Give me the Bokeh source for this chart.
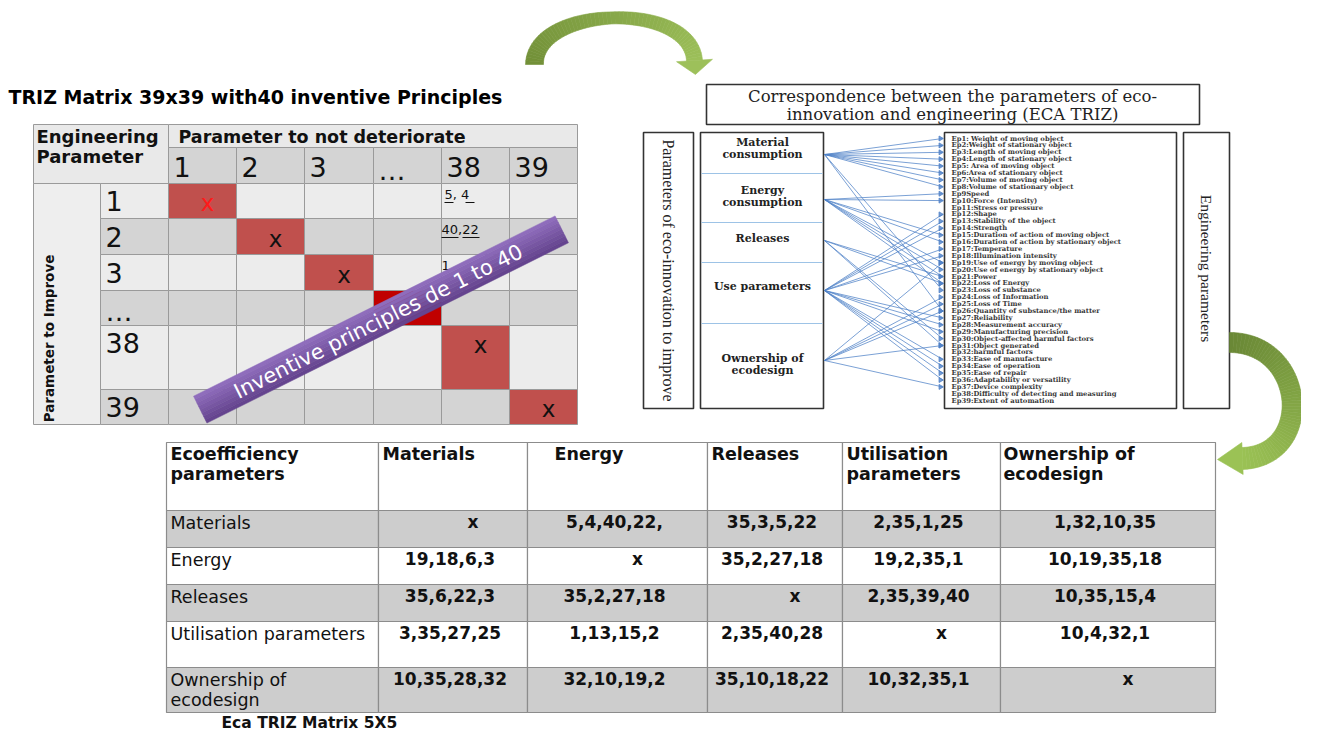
import math
import numpy as np
from bokeh.plotting import figure
from bokeh.models import Range1d
from bokeh.core.properties import value
from bokeh.embed import file_html
from bokeh.resources import INLINE

# ---------------- data ----------------
matrix_title = "TRIZ Matrix 39x39 with40 inventive Principles"
matrix_cols = ["1", "2", "3", "\u2026", "38", "39"]
matrix_rows = ["1", "2", "3", "\u2026", "38", "39"]
matrix_diag = ["x", "x", "x", "", "x", "x"]
col38_principles = ["5, 4", "40,22", "1"]
banner_text = "Inventive principles de 1 to 40"

corr_title = ["Correspondence between the parameters of eco-", "innovation and engineering (ECA TRIZ)"]
eco_axis_label = "Parameters of eco-innovation to improve"
eng_axis_label = "Engineering parameters"
eco_params = [["Material", "consumption"], ["Energy", "consumption"], ["Releases"],
              ["Use parameters"], ["Ownership of", "ecodesign"]]
eng_params = [
    "Ep1: Weight of moving object", "Ep2:Weight of stationary object", "Ep3:Length of moving object",
    "Ep4:Length of stationary object", "Ep5: Area of moving object", "Ep6:Area of stationary object",
    "Ep7:Volume of moving object", "Ep8:Volume of stationary object", "Ep9Speed",
    "Ep10:Force (Intensity)", "Ep11:Stress or pressure", "Ep12:Shape",
    "Ep13:Stability of the object", "Ep14:Strength", "Ep15:Duration of action of moving object",
    "Ep16:Duration of action by stationary object", "Ep17:Temperature", "Ep18:Illumination intensity",
    "Ep19:Use of energy by moving object", "Ep20:Use of energy by stationary object", "Ep21:Power",
    "Ep22:Loss of Energy", "Ep23:Loss of substance", "Ep24:Loss of Information",
    "Ep25:Loss of Time", "Ep26:Quantity of substance/the matter", "Ep27:Reliability",
    "Ep28:Measurement accuracy", "Ep29:Manufacturing precision", "Ep30:Object-affected harmful factors",
    "Ep31:Object generated", "Ep32:harmful factors", "Ep33:Ease of manufacture",
    "Ep34:Ease of operation", "Ep35:Ease of repair", "Ep36:Adaptability or versatility",
    "Ep37:Device complexity", "Ep38:Difficulty of detecting and measuring", "Ep39:Extent of automation",
]
links_material = [1, 2, 3, 4, 5, 6, 7, 8, 23, 26]
links_energy = [9, 10, 15, 16, 19, 20, 21, 22]
links_releases = [21, 22, 30, 31]
links_use = [12, 13, 14, 17, 18, 27, 28, 29, 33, 34, 35, 36]
links_ownership = [19, 24, 25, 26, 31, 37]

table_title = "Eca TRIZ  Matrix 5X5"
table_cols = [["Ecoefficiency", "parameters"], ["Materials"], ["Energy"], ["Releases"],
              ["Utilisation", "parameters"], ["Ownership of", "ecodesign"]]
table_rows = [["Materials"], ["Energy"], ["Releases"], ["Utilisation parameters"], ["Ownership of", "ecodesign"]]
vals_materials = ["x", "5,4,40,22,", "35,3,5,22", "2,35,1,25", "1,32,10,35"]
vals_energy = ["19,18,6,3", "x", "35,2,27,18", "19,2,35,1", "10,19,35,18"]
vals_releases = ["35,6,22,3", "35,2,27,18", "x", "2,35,39,40", "10,35,15,4"]
vals_utilisation = ["3,35,27,25", "1,13,15,2", "2,35,40,28", "x", "10,4,32,1"]
vals_ownership = ["10,35,28,32", "32,10,19,2", "35,10,18,22", "10,32,35,1", "x"]
table_vals = [vals_materials, vals_energy, vals_releases, vals_utilisation, vals_ownership]

# ---------------- figure ----------------
p = figure(width=1301, height=730, x_range=Range1d(0, 1301), y_range=Range1d(730, 0),
           output_backend="svg", toolbar_location=None, min_border=0,
           x_axis_location=None, y_axis_location=None)
p.grid.visible = False
p.outline_line_color = None
p.background_fill_color = "white"
p.border_fill_color = "white"

SANS = "DejaVu Sans"
SERIF = "DejaVu Serif"
TIMES = "Liberation Serif"


def txt(x, y, s, font=SANS, size=15, style="normal", color="black", align="left",
        baseline="middle", angle=0.0):
    p.text(x=[x], y=[y], text=[s], text_font=value(font), text_font_size=f"{size}px",
           text_font_style=style, text_color=color, text_align=align,
           text_baseline=baseline, angle=angle)


def boxes(rects, line_color="#9a9a9a", line_width=1.0):
    p.quad(left=[r[0] for r in rects], right=[r[2] for r in rects],
           top=[r[1] for r in rects], bottom=[r[3] for r in rects],
           fill_color=[r[4] for r in rects], line_color=line_color, line_width=line_width)


# ---------------- left TRIZ matrix ----------------
MX = [33, 100, 168, 236, 304, 373, 441, 509, 577]
MY = [124, 147, 183, 218, 254, 290, 325, 389, 424]
LIGHT, GRAY = "#ececec", "#d4d4d4"
RED, DARKRED = "#c0504d", "#c00000"

txt(8, 96, matrix_title, size=19, style="bold")
rects = [(MX[0], MY[0], MX[2], MY[2], "#e9e9e9"), (MX[2], MY[0], MX[8], MY[1], "#e9e9e9"),
         (MX[0], MY[2], MX[1], MY[8], "#eeeeee")]
for j in range(6):
    rects.append((MX[2 + j], MY[1], MX[3 + j], MY[2], GRAY))
for i in range(6):
    fill = LIGHT if i % 2 == 0 else GRAY
    rects.append((MX[1], MY[2 + i], MX[2], MY[3 + i], fill))
    for j in range(6):
        f = fill
        if i == j:
            f = DARKRED if matrix_diag[i] == "" else RED
        rects.append((MX[2 + j], MY[2 + i], MX[3 + j], MY[3 + i], f))
boxes(rects)

txt(36, 136, "Engineering", size=18, style="bold", color="#111111")
txt(36, 156, "Parameter", size=18, style="bold", color="#111111")
txt(178, 136, "Parameter  to not deteriorate", size=17.5, style="bold", color="#111111")
for j, lab in enumerate(matrix_cols):
    yy = 170 if lab == "\u2026" else 166
    txt(MX[2 + j] + 5, yy, lab, size=27, color="#111111")
for i, lab in enumerate(matrix_rows):
    top, bot = MY[2 + i], MY[3 + i]
    yy = (top + bot) / 2
    if lab == "38":
        yy = top + 17
    if lab == "\u2026":
        yy = bot - 14
    txt(105, yy, lab, size=27, color="#111111")
    if matrix_diag[i]:
        cx = (MX[2 + i] + MX[3 + i]) / 2 + 5
        cy = yy + 2
        txt(cx, cy, matrix_diag[i], size=23, align="center",
            color="#ff1a1a" if i == 0 else "#111111")
txt(48, 338, "Parameter to Improve", size=13.5, style="bold", color="#111111", align="center",
    angle=math.pi / 2)

# principles in column 38
for k, s in enumerate(col38_principles):
    yy = MY[2 + k] + 11
    x0 = MX[6] + (3 if k == 0 else 0)
    txt(x0, yy, s, size=13, color="#111111")
    if k == 0:
        p.segment(x0=[x0, x0 + 21], y0=[yy + 8, yy + 8], x1=[x0 + 9, x0 + 30], y1=[yy + 8, yy + 8],
                  line_color="#111111", line_width=1)
    elif k == 1:
        p.segment(x0=[x0, x0 + 21], y0=[yy + 8, yy + 8], x1=[x0 + 17, x0 + 38], y1=[yy + 8, yy + 8],
                  line_color="#111111", line_width=1)

# purple banner
bc = (380.5, 319.0)
blen, bwid = 404.0, 30.0
ang = math.radians(26.5)
u = np.array([math.cos(ang), -math.sin(ang)])
v = np.array([math.sin(ang), math.cos(ang)])
nstrip = 8
cols_a = np.array([0x93, 0x70, 0xc0])
cols_b = np.array([0x62, 0x42, 0x8c])
xs_b, ys_b, fc_b = [], [], []
for k in range(nstrip):
    a0 = -bwid / 2 + bwid * k / nstrip
    a1 = -bwid / 2 + bwid * (k + 1) / nstrip
    c = np.array(bc)
    pts = [c - u * blen / 2 + v * a0, c + u * blen / 2 + v * a0, c + u * blen / 2 + v * a1, c - u * blen / 2 + v * a1]
    xs_b.append([q[0] for q in pts])
    ys_b.append([q[1] for q in pts])
    cc = cols_a + (cols_b - cols_a) * (k + 0.5) / nstrip
    fc_b.append("#%02x%02x%02x" % tuple(int(t) for t in cc))
p.patches(xs=xs_b, ys=ys_b, fill_color=fc_b, line_color=fc_b, line_width=0.5)
txt(378, 321, banner_text, size=21, color="white", align="center", angle=ang)

# ---------------- middle correspondence diagram ----------------
BOXC = "#333333"
boxes([(706, 84, 1199, 124, "white"), (643, 132, 693, 408, "white"),
       (700, 132, 823, 408, "white"), (944, 132, 1176, 408, "white"),
       (1183, 132, 1229, 408, "white")], line_color=BOXC, line_width=1.6)
txt(952, 96, corr_title[0], font=SERIF, size=16.5, align="center", color="#222222")
txt(952, 114, corr_title[1], font=SERIF, size=16.5, align="center", color="#222222")
txt(668, 270, eco_axis_label, font=TIMES, size=16, align="center", color="#222222", angle=-math.pi / 2)
txt(1206, 268, eng_axis_label, font=TIMES, size=15.5, align="center", color="#222222", angle=-math.pi / 2)

sep_y = [173, 222, 262, 323]
p.segment(x0=[701] * 4, y0=sep_y, x1=[822] * 4, y1=sep_y, line_color="#9dc3e6", line_width=1.2)
eco_text_y = [[142, 154], [190, 202], [238], [286], [358, 370]]
for lines, ys in zip(eco_params, eco_text_y):
    for s, yy in zip(lines, ys):
        txt(762, yy, s, font=SERIF, size=11, style="bold", align="center", color="#222222")

ep_y0, ep_dy = 138.0, 6.9
for k, s in enumerate(eng_params):
    txt(951, ep_y0 + k * ep_dy, s, font=SERIF, size=6.8, style="bold", color="#3a3a3a")

origins_y = [154, 199, 240, 290, 360]
all_links = [links_material, links_energy, links_releases, links_use, links_ownership]
lx0, ly0, lx1, ly1 = [], [], [], []
for oy, targets in zip(origins_y, all_links):
    for t in targets:
        lx0.append(824)
        ly0.append(oy)
        lx1.append(942)
        ly1.append(ep_y0 + (t - 1) * ep_dy)
p.segment(x0=lx0, y0=ly0, x1=lx1, y1=ly1, line_color="#4f81c7", line_alpha=0.75, line_width=1)
p.scatter(x=[x - 2 for x in lx1], y=ly1, marker="triangle", size=5, angle=-math.pi / 2,
          fill_color="#4f81c7", line_color="#4f81c7", alpha=0.8)


# ---------------- curved green arrows ----------------
def bezier(P, n):
    P = np.array(P, dtype=float)
    t = np.linspace(0, 1, n)[:, None]
    pts = ((1 - t) ** 3) * P[0] + 3 * ((1 - t) ** 2) * t * P[1] + 3 * (1 - t) * t ** 2 * P[2] + t ** 3 * P[3]
    d = 3 * ((1 - t) ** 2) * (P[1] - P[0]) + 6 * (1 - t) * t * (P[2] - P[1]) + 3 * t ** 2 * (P[3] - P[2])
    d = d / np.linalg.norm(d, axis=1)[:, None]
    return t[:, 0], pts, d


def green_arrow(P, widths, c0, c1, head_half, head_len, n=60):
    t, pts, d = bezier(P, n)
    nrm = np.stack([-d[:, 1], d[:, 0]], axis=1)
    w = np.interp(t, [0, 0.5, 1], widths)
    L = pts + nrm * (w / 2)[:, None]
    R = pts - nrm * (w / 2)[:, None]
    c0, c1 = np.array(c0, float), np.array(c1, float)
    xs, ys, fc = [], [], []
    for i in range(n - 1):
        xs.append([L[i, 0], L[i + 1, 0], R[i + 1, 0], R[i, 0]])
        ys.append([L[i, 1], L[i + 1, 1], R[i + 1, 1], R[i, 1]])
        cc = c0 + (c1 - c0) * (i + 0.5) / (n - 1)
        fc.append("#%02x%02x%02x" % tuple(int(q) for q in cc))
    end, de, ne = pts[-1], d[-1], nrm[-1]
    hb1 = end + ne * head_half
    hb2 = end - ne * head_half
    tip = end + de * head_len
    xs.append([hb1[0], tip[0], hb2[0]])
    ys.append([hb1[1], tip[1], hb2[1]])
    fc.append("#%02x%02x%02x" % tuple(int(q) for q in c1))
    p.patches(xs=xs, ys=ys, fill_color=fc, line_color=fc, line_width=0.6)


green_arrow([(534, 64), (534, 5), (690, 0), (694, 60)], [18, 12, 16],
            (0x72, 0x90, 0x38), (0x9d, 0xc0, 0x5a), 18, 14)
green_arrow([(1229, 342), (1305, 342), (1315, 455), (1242, 458)], [20, 20, 22],
            (0x6a, 0x88, 0x36), (0x9b, 0xc2, 0x55), 16, 25)

# ---------------- bottom Eca TRIZ table ----------------
TX = [166, 378, 527, 707, 842, 1000, 1215]
TY = [442, 510, 547, 584, 621, 667, 712]
TGRAY = "#cdcdcd"
trects = []
for j in range(6):
    trects.append((TX[j], TY[0], TX[j + 1], TY[1], "white"))
for i in range(5):
    f = TGRAY if i % 2 == 0 else "white"
    for j in range(6):
        trects.append((TX[j], TY[1 + i], TX[j + 1], TY[2 + i], f))
boxes(trects, line_color="#8c8c8c", line_width=1.2)

header_dx = [4, 4, 27, 4, 4, 3]
for j, lines in enumerate(table_cols):
    for k, s in enumerate(lines):
        txt(TX[j] + header_dx[j], 453 + 20 * k, s, size=17.5, style="bold", color="#111111")
for i, lines in enumerate(table_rows):
    for k, s in enumerate(lines):
        txt(170, TY[1 + i] + 12 + 20 * k, s, size=17.5, color="#111111")
for i, row in enumerate(table_vals):
    for j, s in enumerate(row):
        cx = (TX[1 + j] + TX[2 + j]) / 2
        if s == "x":
            cx += 20
        else:
            cx -= 3
        txt(cx, TY[1 + i] + 11, s, size=17, style="bold", align="center", color="#111111")
txt(221, 722, table_title, size=15.5, style="bold", color="#111111", baseline="middle")

open("out.html", "w").write(file_html(p, INLINE))
